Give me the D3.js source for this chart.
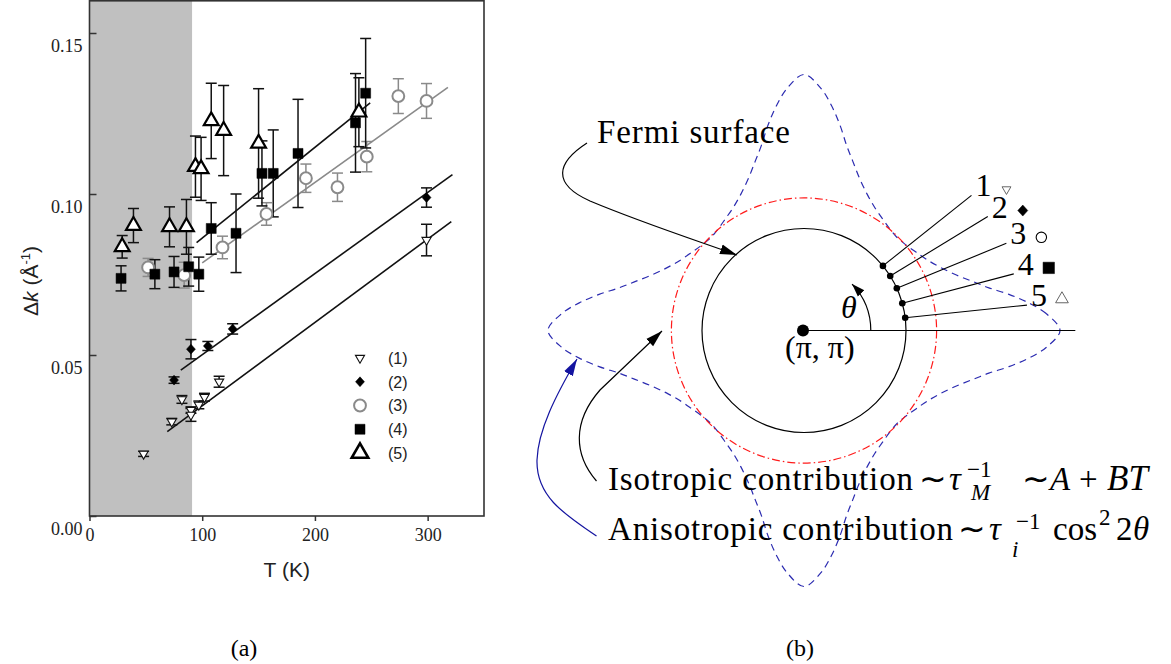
<!DOCTYPE html>
<html>
<head>
<meta charset="utf-8">
<script src="https://cdn.jsdelivr.net/npm/d3@7"></script>
<style>
  html, body { margin: 0; padding: 0; background: #fff; }
  svg { display: block; }
</style>
</head>
<body>
<svg id="fig" width="1171" height="664"></svg>
<script>
// ---------- panel (a) data: momentum width Δk vs temperature for five cuts ----------
const tempTicks = [0, 100, 200, 300];
const dkTicks = [0, 0.05, 0.10, 0.15];
const superconductingTc = 91;           // shaded region 0 .. Tc

const cut1T = [48, 73, 82, 90, 90, 97, 102, 115, 299];
const cut1K = [0.0193, 0.0293, 0.0362, 0.0329, 0.0314, 0.0345, 0.0369, 0.0417, 0.0857];
const cut1E = [0.0008, 0.0010, 0.0012, 0.0010, 0.0020, 0.0012, 0.0012, 0.0017, 0.0049];

const cut2T = [75, 90, 105, 127, 299];
const cut2K = [0.0422, 0.0518, 0.0528, 0.0581, 0.0989];
const cut2E = [0.0010, 0.0030, 0.0014, 0.0016, 0.0030];

const cut3T = [52, 84, 118, 157, 192, 220, 246, 274, 299];
const cut3K = [0.0772, 0.0748, 0.0834, 0.0938, 0.1049, 0.1021, 0.1116, 0.1304, 0.1289];
const cut3E = [0.0028, 0.0040, 0.0035, 0.0035, 0.0044, 0.0044, 0.0047, 0.0054, 0.0054];

const cut4T = [28, 58, 75, 88, 97, 108, 130, 153, 163, 185, 236, 245];
const cut4K = [0.0738, 0.0751, 0.0758, 0.0774, 0.0751, 0.0893, 0.0878, 0.1064, 0.1064, 0.1126, 0.1221, 0.1313];
const cut4E = [0.0039, 0.0045, 0.0048, 0.0060, 0.0053, 0.0080, 0.0122, 0.0101, 0.0135, 0.0168, 0.0153, 0.0170];

const cut5T = [29, 39, 71, 86, 94, 99, 108, 119, 150, 239];
const cut5K = [0.0836, 0.0902, 0.0898, 0.0898, 0.1085, 0.1078, 0.1227, 0.1197, 0.1157, 0.1254];
const cut5E = [0.0035, 0.0053, 0.0062, 0.0085, 0.0095, 0.0098, 0.0117, 0.0140, 0.0170, 0.0107];

// linear fits Δk = a + b·T for cuts 1–4
const fitIntercept = [0.0083, 0.0249, 0.0536, 0.0581];
const fitSlope     = [0.000259, 0.000252, 0.000250, 0.000282];
const fitFrom      = [69, 81, 100, 95];
const fitTo        = [321, 322, 318, 249];

const legendLabels = ["(1)", "(2)", "(3)", "(4)", "(5)"];

// ---------- panel (b) data: Fermi surface sketch (radii in units of the Fermi radius) ----------
const fermiRadius = 1.0;
const isotropicRadius = 1.30;
// anisotropic contour: radius vs angular distance from a tip, degrees
const starDelta = [0, 4, 7, 10, 13, 16, 20, 25, 30, 35, 40, 45];
const starRadius = [2.51, 2.38, 2.22, 2.04, 1.86, 1.73, 1.59, 1.47, 1.39, 1.34, 1.305, 1.29];
const cutNames = ["1", "2", "3", "4", "5"];
const cutAngle = [39.3, 32.3, 24.5, 15.5, 7.2];       // where each cut meets the Fermi surface
const leaderAngle = [38.9, 31.8, 23.3, 15.1, 6.5];
const leaderReach = [2.11, 2.12, 2.16, 2.13, 2.20];

// ===================================================================
const svg = d3.select("#fig");
svg.append("rect").attr("width", 1171).attr("height", 664).attr("fill", "#fff");

const serif = "'Liberation Serif', 'Times New Roman', serif";
const sans = "'Liberation Sans', Arial, sans-serif";

// ---------------- panel (a) ----------------
const x = d3.scaleLinear().domain([0, 350]).range([89.5, 484]);
const y = d3.scaleLinear().domain([0, 0.16]).range([516, 0.8]);

const pa = svg.append("g");

pa.append("rect")
  .attr("x", x(0)).attr("y", y(0.16))
  .attr("width", x(superconductingTc) - x(0))
  .attr("height", y(0) - y(0.16))
  .attr("fill", "#c0c0c0");

// symbol shapes
const diamond = {
  draw(ctx, size) {
    const s = Math.sqrt(size);
    const h = 0.55 * s, w = 0.5 * s;
    ctx.moveTo(0, -h); ctx.lineTo(w, 0); ctx.lineTo(0, h); ctx.lineTo(-w, 0); ctx.closePath();
  }
};

const series = [
  { T: cut1T, K: cut1K, E: cut1E, type: d3.symbolTriangle, size: 36, rot: 180, fill: "#fff", stroke: "#111", sw: 1.1, bar: "#111" },
  { T: cut2T, K: cut2K, E: cut2E, type: diamond, size: 80, rot: 0, fill: "#000", stroke: "#000", sw: 0.5, bar: "#111" },
  { T: cut3T, K: cut3K, E: cut3E, type: d3.symbolCircle, size: 110, rot: 0, fill: "#fff", stroke: "#8a8a8a", sw: 2, bar: "#8a8a8a" },
  { T: cut5T, K: cut5K, E: cut5E, type: d3.symbolTriangle, size: 95, rot: 0, fill: "#fff", stroke: "#000", sw: 2.2, bar: "#111" },
  { T: cut4T, K: cut4K, E: cut4E, type: d3.symbolSquare, size: 100, rot: 0, fill: "#000", stroke: "#000", sw: 0.5, bar: "#111" }
];
const legendOrder = [0, 1, 2, 4, 3];   // legend rows (1)..(5)

// fit lines
const fitColors = ["#111", "#111", "#8a8a8a", "#111"];
const lineGen = d3.line().x(d => x(d[0])).y(d => y(d[1]));
fitSlope.forEach((b, i) => {
  const a = fitIntercept[i];
  pa.append("path")
    .attr("d", lineGen([[fitFrom[i], a + b * fitFrom[i]], [fitTo[i], a + b * fitTo[i]]]))
    .attr("fill", "none").attr("stroke", fitColors[i]).attr("stroke-width", 1.6);
});

// error bars
const capHalf = 5.5;
series.forEach(s => {
  const g = pa.append("g").attr("stroke", s.bar).attr("stroke-width", 1.5).attr("fill", "none");
  s.T.forEach((t, i) => {
    const cx = x(t), top = y(s.K[i] + s.E[i]), bot = y(s.K[i] - s.E[i]);
    g.append("line").attr("x1", cx).attr("x2", cx).attr("y1", top).attr("y2", bot);
    g.append("line").attr("x1", cx - capHalf).attr("x2", cx + capHalf).attr("y1", top).attr("y2", top);
    g.append("line").attr("x1", cx - capHalf).attr("x2", cx + capHalf).attr("y1", bot).attr("y2", bot);
  });
});

// markers
series.forEach(s => {
  const sym = d3.symbol().type(s.type).size(s.size);
  pa.append("g").selectAll("path").data(s.T.map((t, i) => [t, s.K[i]])).join("path")
    .attr("d", sym)
    .attr("transform", d => `translate(${x(d[0])},${y(d[1])}) rotate(${s.rot})`)
    .attr("fill", s.fill).attr("stroke", s.stroke).attr("stroke-width", s.sw)
    .attr("stroke-linejoin", "miter");
});

// frame
pa.append("rect")
  .attr("x", x(0)).attr("y", y(0.16))
  .attr("width", x(350) - x(0)).attr("height", y(0) - y(0.16))
  .attr("fill", "none").attr("stroke", "#333").attr("stroke-width", 1.6);

// axes
const yAxis = pa.append("g").attr("transform", `translate(${x(0)},0)`)
  .call(d3.axisLeft(y).tickValues(dkTicks).tickSize(-7).tickFormat(d3.format(".2f")));
yAxis.select(".domain").remove();
yAxis.selectAll("line").attr("stroke", "#333").attr("stroke-width", 1.5);
yAxis.selectAll("text")
  .attr("x", -7).attr("y", 18).attr("dy", null)
  .attr("font-family", serif).attr("font-size", 18).attr("fill", "#222");

const xAxis = pa.append("g").attr("transform", `translate(0,${y(0)})`)
  .call(d3.axisBottom(x).tickValues(tempTicks).tickSize(5).tickFormat(d3.format("d")));
xAxis.select(".domain").remove();
xAxis.selectAll("line").attr("stroke", "#333").attr("stroke-width", 1.5);
xAxis.selectAll("text")
  .attr("y", 25).attr("dy", null)
  .attr("font-family", serif).attr("font-size", 18).attr("fill", "#222");

// axis titles
pa.append("text")
  .attr("x", (x(0) + x(350)) / 2).attr("y", 577)
  .attr("text-anchor", "middle")
  .attr("font-family", sans).attr("font-size", 21).attr("fill", "#222")
  .text("T (K)");

const yt = pa.append("text")
  .attr("transform", "translate(38,281) rotate(-90)")
  .attr("text-anchor", "middle")
  .attr("font-family", sans).attr("font-size", 21).attr("fill", "#222");
yt.append("tspan").text("Δ");
yt.append("tspan").attr("font-style", "italic").text("k");
yt.append("tspan").text("  (Å");
yt.append("tspan").attr("font-size", 13).attr("dy", -8).text("-1");
yt.append("tspan").attr("dy", 8).text(")");

// legend
const legY = d3.scalePoint().domain(legendLabels).range([358, 453]);
legendLabels.forEach((lab, row) => {
  const s = series[legendOrder[row]];
  const sym = d3.symbol().type(s.type).size(s.size * (row === 4 ? 1.25 : 1));
  pa.append("path")
    .attr("d", sym)
    .attr("transform", `translate(360,${legY(lab)}) rotate(${s.rot})`)
    .attr("fill", s.fill).attr("stroke", s.stroke).attr("stroke-width", s.sw + (row === 4 ? 0.4 : 0));
  pa.append("text")
    .attr("x", 388).attr("y", legY(lab)).attr("dy", "0.36em")
    .attr("font-family", sans).attr("font-size", 16).attr("fill", "#222")
    .text(lab);
});

// ---------------- panel (b) ----------------
const pb = svg.append("g");
const center = { x: 804, y: 330.5 };
const rU = d3.scaleLinear().domain([0, 1]).range([0, 102]);
const rad = d => d * Math.PI / 180;
const polar = (deg, r) => [center.x + rU(r) * Math.cos(rad(deg)), center.y - rU(r) * Math.sin(rad(deg))];

const defs = svg.append("defs");
function arrowMarker(id, color, len, half) {
  defs.append("marker")
    .attr("id", id).attr("markerUnits", "userSpaceOnUse")
    .attr("markerWidth", len + 2).attr("markerHeight", 2 * half + 2)
    .attr("viewBox", `0 ${-half - 1} ${len + 2} ${2 * half + 2}`)
    .attr("refX", len).attr("refY", 0).attr("orient", "auto")
    .append("path").attr("d", `M0,${-half}L${len},0L0,${half}Z`).attr("fill", color);
}
arrowMarker("ahBlack", "#000", 17, 5);
arrowMarker("ahBlue", "#1414a0", 17, 5);
arrowMarker("ahSmall", "#000", 13, 4.5);

// anisotropic (dashed) contour
const starPts = [];
for (let q = 0; q < 4; q++) {
  starDelta.forEach((d, i) => starPts.push([90 * q + d, starRadius[i]]));
  for (let i = starDelta.length - 2; i >= 1; i--) starPts.push([90 * q + 90 - starDelta[i], starRadius[i]]);
}
const radial = d3.lineRadial()
  .angle(p => rad(90 - p[0]))
  .radius(p => rU(p[1]))
  .curve(d3.curveCatmullRomClosed.alpha(0.5));
pb.append("path")
  .attr("transform", `translate(${center.x},${center.y})`)
  .attr("d", radial(starPts))
  .attr("fill", "none").attr("stroke", "#2b2bb0").attr("stroke-width", 1.2)
  .attr("stroke-dasharray", "7,5");

// isotropic (dash-dot) circle
pb.append("circle")
  .attr("cx", center.x).attr("cy", center.y).attr("r", rU(isotropicRadius))
  .attr("fill", "none").attr("stroke", "#ff1a1a").attr("stroke-width", 1.2)
  .attr("stroke-dasharray", "8,3,1.5,3");

// Fermi surface
pb.append("circle")
  .attr("cx", center.x).attr("cy", center.y).attr("r", rU(fermiRadius))
  .attr("fill", "none").attr("stroke", "#000").attr("stroke-width", 1.2);

// horizontal reference axis and (π,π) point
pb.append("line")
  .attr("x1", center.x).attr("y1", center.y)
  .attr("x2", polar(0, 2.66)[0]).attr("y2", center.y)
  .attr("stroke", "#000").attr("stroke-width", 1.2);
pb.append("circle").attr("cx", center.x - 1).attr("cy", center.y).attr("r", 6).attr("fill", "#000");
pb.append("text")
  .attr("x", 785).attr("y", 358)
  .attr("font-family", serif).attr("font-size", 32).attr("fill", "#000")
  .text("(π, π)");

// θ arc
const arcP = d3.path();
arcP.arc(center.x, center.y, rU(0.655), 0, -rad(44), true);
pb.append("path").attr("d", arcP.toString())
  .attr("fill", "none").attr("stroke", "#000").attr("stroke-width", 1.2)
  .attr("marker-end", "url(#ahSmall)");
pb.append("text")
  .attr("x", 841).attr("y", 318)
  .attr("font-family", serif).attr("font-size", 32).attr("font-style", "italic")
  .text("θ");

// cuts: dots, leaders, numbers and symbols
const labelSym = [
  { type: d3.symbolTriangle, size: 34, rot: 180, fill: "#fff", stroke: "#666", sw: 1 },
  { type: diamond, size: 100, rot: 0, fill: "#000", stroke: "#000", sw: 0.5 },
  { type: d3.symbolCircle, size: 85, rot: 0, fill: "#fff", stroke: "#000", sw: 1.1 },
  { type: d3.symbolSquare, size: 130, rot: 0, fill: "#000", stroke: "#000", sw: 0.5 },
  { type: d3.symbolTriangle, size: 70, rot: 0, fill: "#fff", stroke: "#666", sw: 1 }
];
cutNames.forEach((name, i) => {
  const p0 = polar(cutAngle[i], fermiRadius);
  const p1 = polar(leaderAngle[i], leaderReach[i]);
  pb.append("line")
    .attr("x1", p0[0]).attr("y1", p0[1]).attr("x2", p1[0]).attr("y2", p1[1])
    .attr("stroke", "#000").attr("stroke-width", 1.1);
  pb.append("circle").attr("cx", p0[0]).attr("cy", p0[1]).attr("r", 3.3).attr("fill", "#000");
  const lx = p1[0] + 4, ly = p1[1] + 1;
  pb.append("text")
    .attr("x", lx).attr("y", ly)
    .attr("font-family", serif).attr("font-size", 32).attr("fill", "#000")
    .text(name);
  const s = labelSym[i];
  pb.append("path")
    .attr("d", d3.symbol().type(s.type).size(s.size))
    .attr("transform", `translate(${lx + 31},${ly - 7}) rotate(${s.rot})`)
    .attr("fill", s.fill).attr("stroke", s.stroke).attr("stroke-width", s.sw);
});

// annotation arrows
function curve(draw) { const p = d3.path(); draw(p); return p.toString(); }
pb.append("path")
  .attr("d", curve(p => {
    p.moveTo(587, 143);
    p.bezierCurveTo(556, 163, 552, 184, 590, 201);
    p.bezierCurveTo(640, 222, 695, 240, 737, 255);
  }))
  .attr("fill", "none").attr("stroke", "#000").attr("stroke-width", 1.2)
  .attr("marker-end", "url(#ahBlack)");

pb.append("path")
  .attr("d", curve(p => {
    p.moveTo(596.5, 481);
    p.bezierCurveTo(574, 455, 572, 422, 600, 390);
    p.lineTo(662, 331);
  }))
  .attr("fill", "none").attr("stroke", "#000").attr("stroke-width", 1.2)
  .attr("marker-end", "url(#ahBlack)");

pb.append("path")
  .attr("d", curve(p => {
    p.moveTo(596.5, 536);
    p.bezierCurveTo(562, 513, 536, 495, 537, 460);
    p.bezierCurveTo(538, 430, 556, 395, 577, 359);
  }))
  .attr("fill", "none").attr("stroke", "#1414a0").attr("stroke-width", 1.2)
  .attr("marker-end", "url(#ahBlue)");

// texts
function tx(xp, yp, str, opts = {}) {
  const t = pb.append("text")
    .attr("x", xp).attr("y", yp)
    .attr("font-family", serif).attr("font-size", opts.size || 33)
    .attr("fill", "#000").text(str);
  if (opts.italic) t.attr("font-style", "italic");
  if (opts.len) t.attr("textLength", opts.len).attr("lengthAdjust", "spacing");
  return t;
}
tx(597, 143, "Fermi surface", { len: 193 });

tx(608, 490, "Isotropic contribution", { len: 305 });
tx(919, 490, "∼");
tx(949, 490, "τ", { italic: true });
tx(967, 477, "−1", { size: 23 });
tx(971, 500, "M", { size: 23, italic: true });
tx(1022, 490, "∼");
tx(1050, 490, "A", { italic: true });
tx(1079, 490, "+");
tx(1107, 490, "BT", { italic: true, size: 35 });

tx(608, 540, "Anisotropic contribution", { len: 345 });
tx(958, 540, "∼");
tx(989, 540, "τ", { italic: true });
tx(1016, 529, "−1", { size: 23 });
tx(1012, 557, "i", { size: 23, italic: true });
tx(1053, 540, "cos");
tx(1099, 525, "2", { size: 23 });
tx(1116, 540, "2");
tx(1133, 540, "θ", { italic: true });

// captions
svg.append("text").attr("x", 244).attr("y", 656).attr("text-anchor", "middle")
  .attr("font-family", serif).attr("font-size", 24).text("(a)");
svg.append("text").attr("x", 800).attr("y", 656).attr("text-anchor", "middle")
  .attr("font-family", serif).attr("font-size", 24).text("(b)");
</script>
</body>
</html>
